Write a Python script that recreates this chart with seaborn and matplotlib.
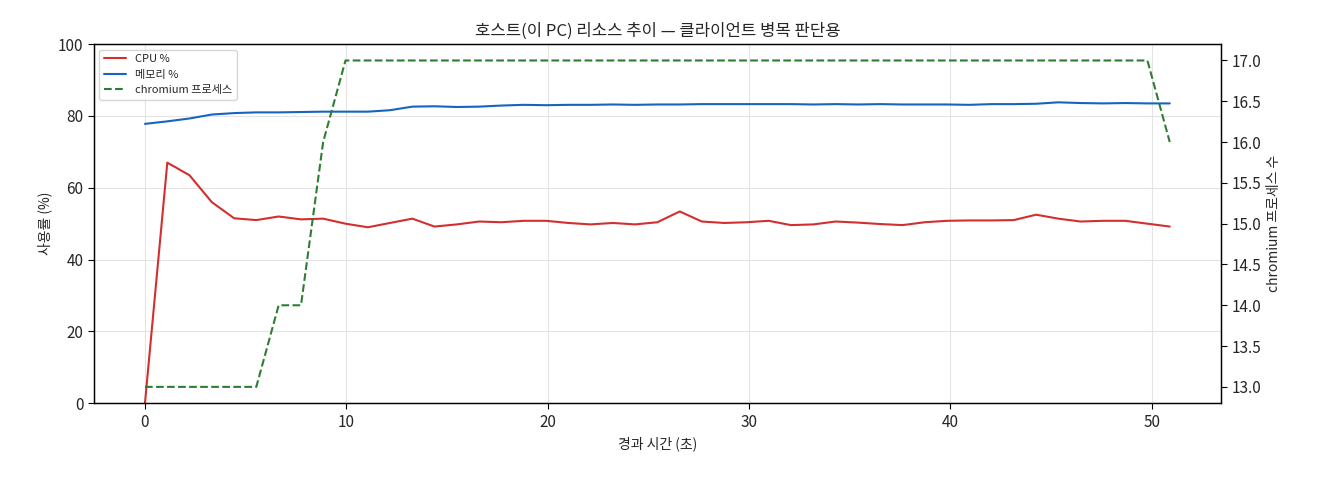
import matplotlib
matplotlib.use("Agg")
import matplotlib.pyplot as plt
import seaborn as sns
import pandas as pd

sns.set_style("whitegrid")
plt.rcParams['font.family'] = ['Noto Sans CJK KR', 'DejaVu Sans']

cpu = [0, 67, 63.5, 56, 51.5, 51, 52, 51.2, 51.4, 50, 49, 50.2, 51.4, 49.2, 49.8, 50.6,
       50.4, 50.8, 50.8, 50.2, 49.8, 50.2, 49.8, 50.4, 53.4, 50.6, 50.2, 50.4, 50.8, 49.6,
       49.8, 50.6, 50.3, 49.9, 49.6, 50.4, 50.8, 50.9, 50.9, 51, 52.5, 51.4, 50.6, 50.8,
       50.8, 50.0, 49.2]
mem = [77.8, 78.5, 79.3, 80.4, 80.8, 81, 81, 81.1, 81.2, 81.2, 81.2, 81.6, 82.6, 82.7,
       82.5, 82.6, 82.9, 83.1, 83, 83.1, 83.1, 83.2, 83.1, 83.2, 83.2, 83.3, 83.3, 83.3,
       83.3, 83.3, 83.2, 83.3, 83.2, 83.3, 83.2, 83.2, 83.2, 83.1, 83.3, 83.3, 83.4, 83.8,
       83.6, 83.5, 83.6, 83.5, 83.5]
chrom = [13, 13, 13, 13, 13, 13, 14, 14, 16, 17] + [17] * 36 + [16]
times = [round(i * 50.9 / 46, 2) for i in range(47)]

df = pd.DataFrame({"t": times, "cpu": cpu, "mem": mem, "chrom": chrom})

fig, ax = plt.subplots(figsize=(13.2, 4.8), dpi=100)
fig.subplots_adjust(left=0.071, right=0.925, top=0.908, bottom=0.16)
sns.lineplot(data=df, x="t", y="cpu", ax=ax, color="#d32f2f", lw=1.5, label="CPU %")
sns.lineplot(data=df, x="t", y="mem", ax=ax, color="#1565c0", lw=1.5, label="메모리 %")
ax2 = ax.twinx()
sns.lineplot(data=df, x="t", y="chrom", ax=ax2, color="#2e7d32", lw=1.5, ls="--",
             label="chromium 프로세스")
ax.set_ylim(0, 100)
ax2.set_ylim(12.8, 17.2)
ax2.grid(False)
ax.grid(True, color="#e4e4e4", lw=0.8)
for a in (ax, ax2):
    for s in a.spines.values():
        s.set_color("black"); s.set_linewidth(0.9)
    a.tick_params(axis="both", length=4, color="black", labelsize=11, direction="out")
ax.tick_params(axis="x", bottom=True)
ax.tick_params(axis="y", left=True)
ax2.tick_params(axis="y", right=True)
ax.set_xlabel("경과 시간 (초)", fontsize=10)
ax.set_ylabel("사용률 (%)", fontsize=10)
ax2.set_ylabel("chromium 프로세스 수", fontsize=10)
ax.set_title("호스트(이 PC) 리소스 추이 — 클라이언트 병목 판단용", fontsize=12)
h1, l1 = ax.get_legend_handles_labels()
h2, l2 = ax2.get_legend_handles_labels()
ax2.get_legend().remove()
ax.legend(h1 + h2, l1 + l2, loc="upper left", fontsize=8, frameon=True)
fig.savefig("out.png", dpi=100)
